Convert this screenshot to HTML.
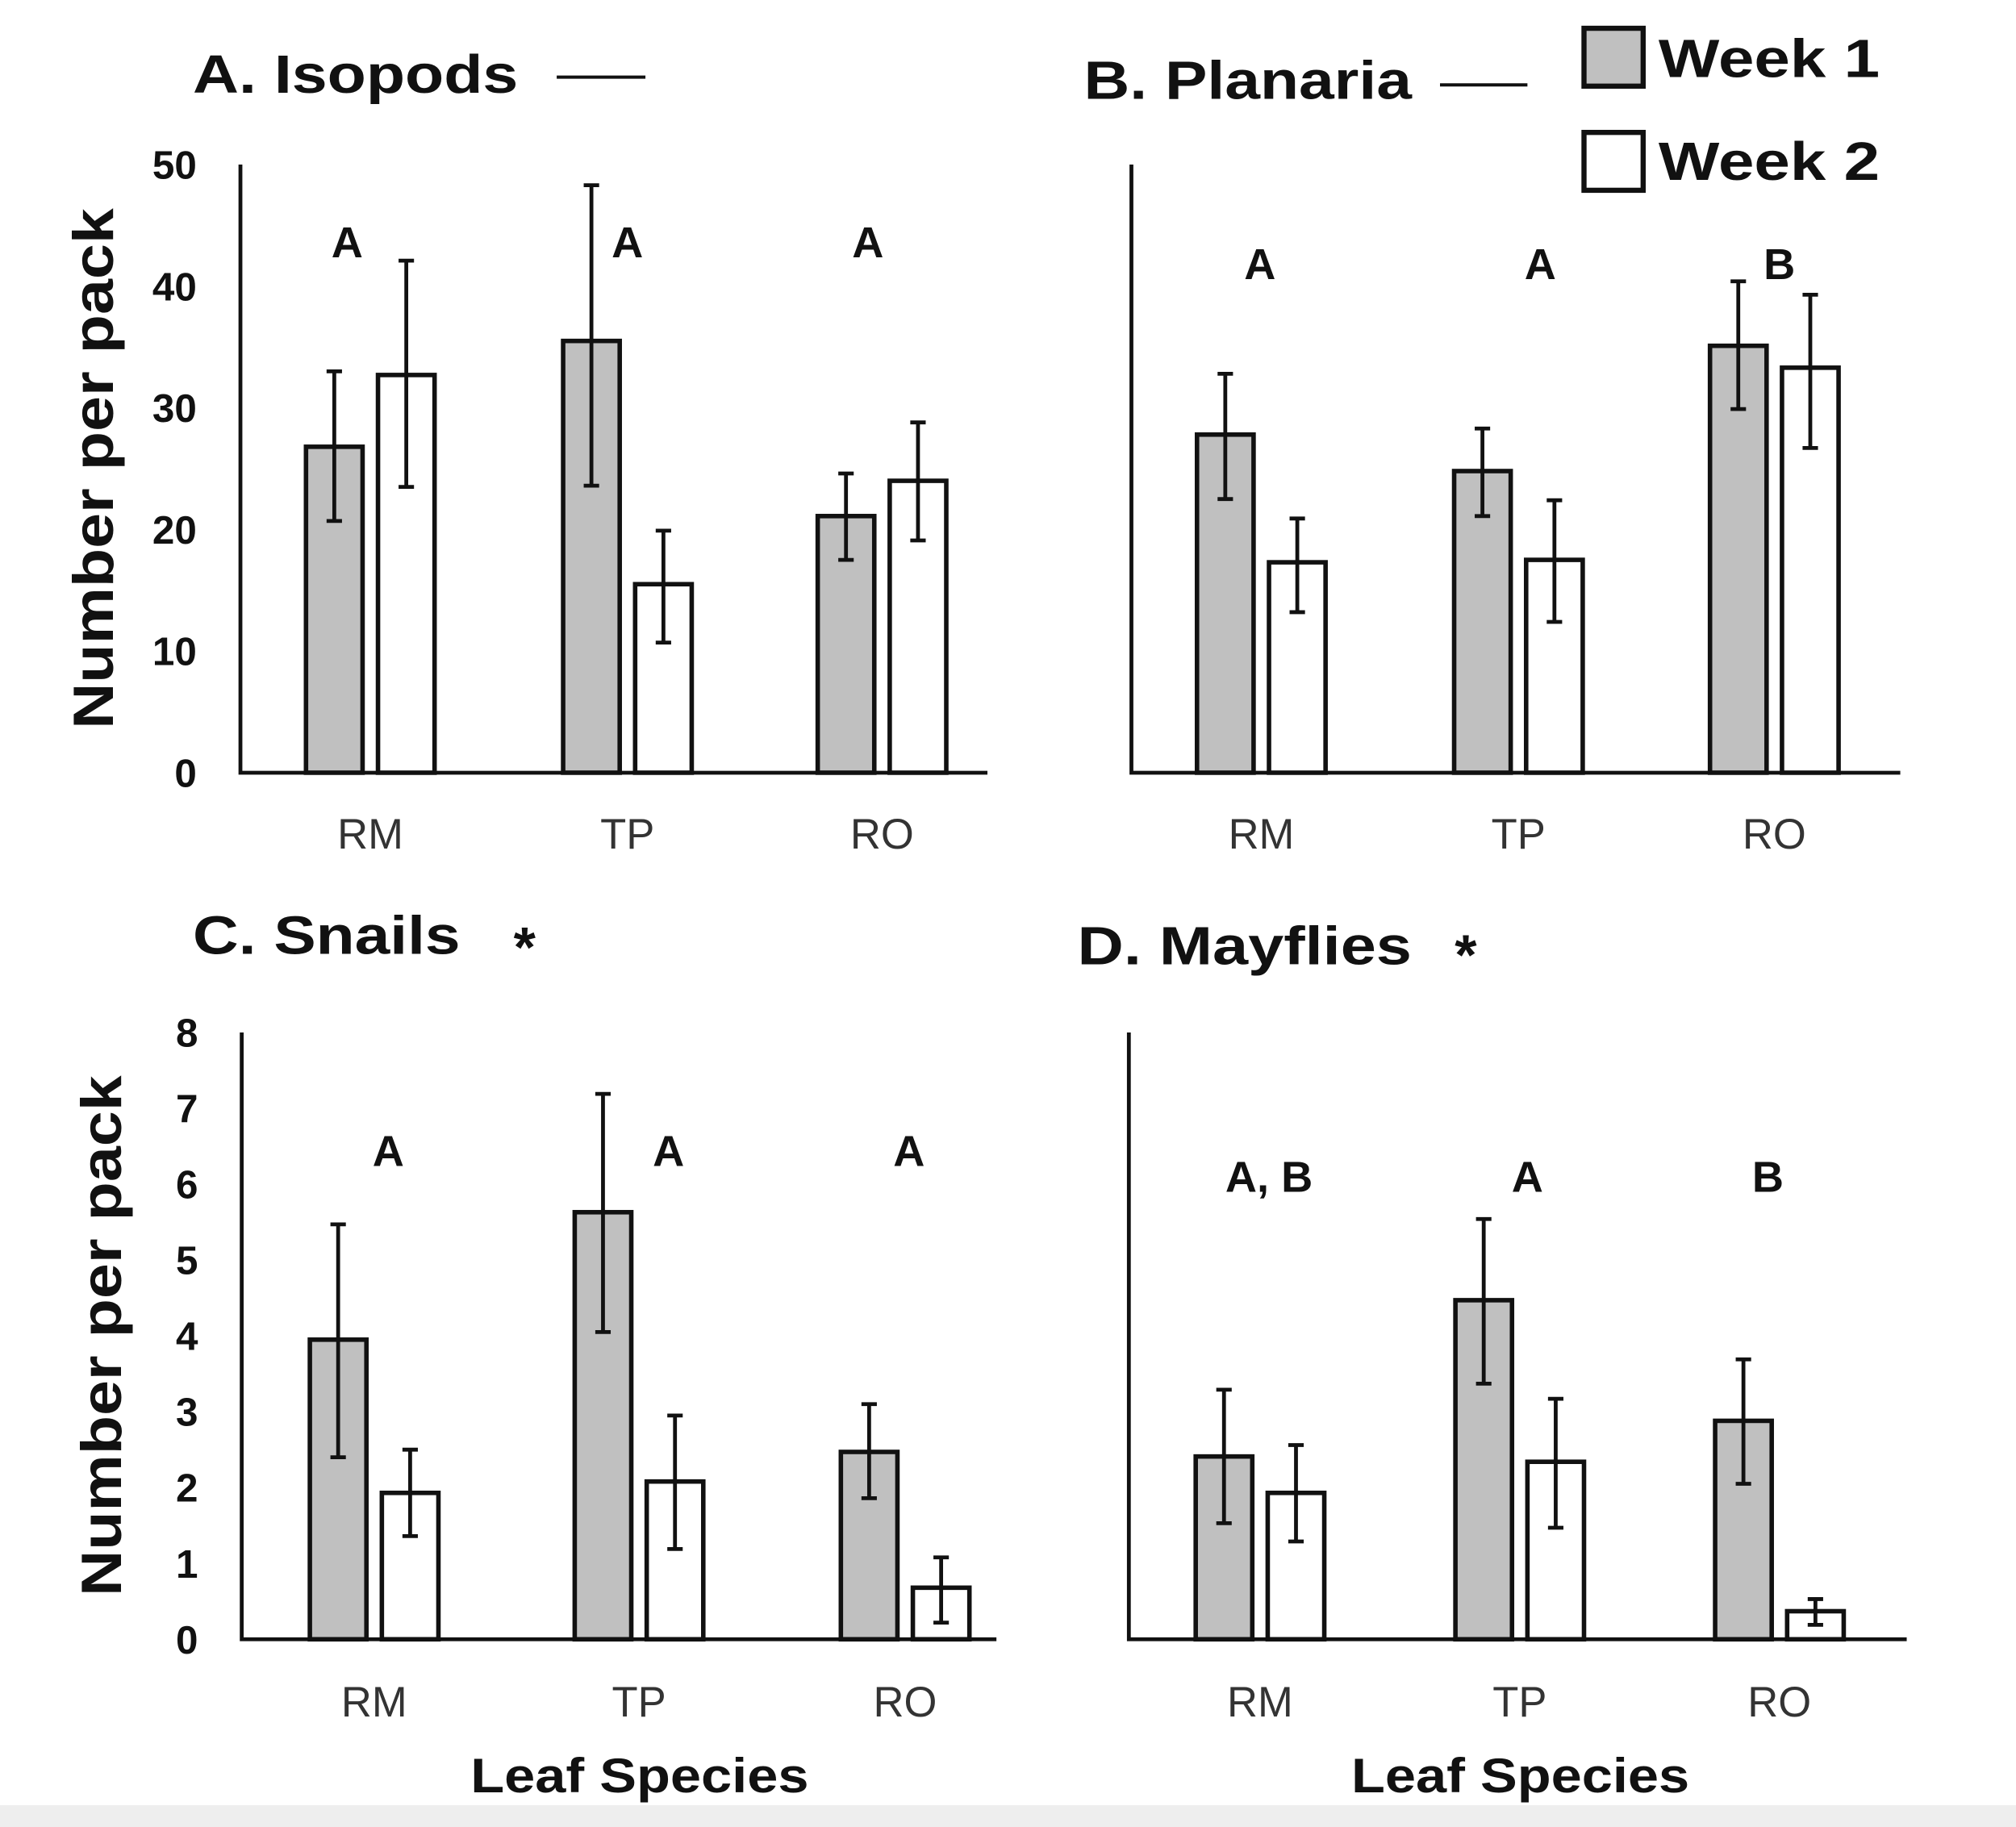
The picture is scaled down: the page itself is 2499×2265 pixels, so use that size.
<!DOCTYPE html>
<html><head><meta charset="utf-8"><style>
html,body{margin:0;padding:0;background:#fff;}
svg{display:block;}
text{font-family:"Liberation Sans",Arial,sans-serif;}
</style></head><body>
<svg id="fig" width="2499" height="2265" viewBox="0 0 1568 1421" preserveAspectRatio="none" xmlns="http://www.w3.org/2000/svg">
<rect x="0" y="0" width="1568" height="1421" fill="#fff"/>
<rect x="0" y="1404" width="1568" height="17" fill="#eeeeee"/>
<g id="root"></g>
</svg>
<script>
const categories = ["RM","TP","RO"];
// Panel A: Isopods
const isoW1 = [26.8, 35.5, 21.1];
const isoW1Hi = [33.0, 48.3, 24.6];
const isoW1Lo = [20.7, 23.6, 17.5];
const isoW2 = [32.7, 15.5, 24.0];
const isoW2Hi = [42.1, 19.9, 28.8];
const isoW2Lo = [23.5, 10.7, 19.1];
const isoLetters = ["A","A","A"];
// Panel B: Planaria
const plaW1 = [27.8, 24.8, 35.1];
const plaW1Hi = [32.8, 28.3, 40.4];
const plaW1Lo = [22.5, 21.1, 29.9];
const plaW2 = [17.3, 17.5, 33.3];
const plaW2Hi = [20.9, 22.4, 39.3];
const plaW2Lo = [13.2, 12.4, 26.7];
const plaLetters = ["A","A","B"];
// Panel C: Snails
const snaW1 = [3.95, 5.63, 2.47];
const snaW1Hi = [5.47, 7.19, 3.10];
const snaW1Lo = [2.40, 4.05, 1.86];
const snaW2 = [1.93, 2.08, 0.68];
const snaW2Hi = [2.50, 2.95, 1.08];
const snaW2Lo = [1.36, 1.19, 0.22];
const snaLetters = ["A","A","A"];
// Panel D: Mayflies
const mayW1 = [2.41, 4.47, 2.88];
const mayW1Hi = [3.29, 5.54, 3.69];
const mayW1Lo = [1.53, 3.37, 2.05];
const mayW2 = [1.93, 2.34, 0.37];
const mayW2Hi = [2.56, 3.17, 0.53];
const mayW2Lo = [1.29, 1.47, 0.19];
const mayLetters = ["A, B","A","B"];
const ticksTop = [0,10,20,30,40,50];
const ticksBottom = [0,1,2,3,4,5,6,7,8];

const NS="http://www.w3.org/2000/svg";
const root=document.getElementById('root');
function mk(tag,attrs,parent,txt){const e=document.createElementNS(NS,tag);for(const k in attrs)e.setAttribute(k,attrs[k]);if(txt!==undefined)e.textContent=txt;(parent||root).appendChild(e);return e;}

const panels=[
 {id:"isopods",title:"A. Isopods",tw:253,tx:150,ty:72,mark:"line",mx:433,my:60,mx2:502,ax:187,ax2:768,top:128,base:601,max:50,cx:[288,488,686],letterX:[270,488,675],letterY:188,w1:isoW1,w1h:isoW1Hi,w1l:isoW1Lo,w2:isoW2,w2h:isoW2Hi,w2l:isoW2Lo,letters:isoLetters,ticks:ticksTop,showTicks:true,ytitleX:72,labY:660},
 {id:"planaria",title:"B. Planaria",tw:255,tx:843,ty:77,mark:"line",mx:1120,my:66,mx2:1188,ax:880,ax2:1478,top:128,base:601,max:50,cx:[981,1181,1380],letterX:[980,1198,1384],letterY:205,w1:plaW1,w1h:plaW1Hi,w1l:plaW1Lo,w2:plaW2,w2h:plaW2Hi,w2l:plaW2Lo,letters:plaLetters,ticks:ticksTop,showTicks:false,labY:660},
 {id:"snails",title:"C. Snails",tw:208,tx:150,ty:742,mark:"star",mx:408,my:752,ax:188,ax2:775,top:803,base:1275,max:8,cx:[291,497,704],letterX:[302,520,707],letterY:895,w1:snaW1,w1h:snaW1Hi,w1l:snaW1Lo,w2:snaW2,w2h:snaW2Hi,w2l:snaW2Lo,letters:snaLetters,ticks:ticksBottom,showTicks:true,ytitleX:78,labY:1335,xtitle:true,xtx:497},
 {id:"mayflies",title:"D. Mayflies",tw:260,tx:838,ty:750,mark:"star",mx:1140,my:758,ax:878,ax2:1483,top:803,base:1275,max:8,cx:[980,1182,1384],letterX:[987,1188,1375],letterY:915,w1:mayW1,w1h:mayW1Hi,w1l:mayW1Lo,w2:mayW2,w2h:mayW2Hi,w2l:mayW2Lo,letters:mayLetters,ticks:ticksBottom,showTicks:false,labY:1335,xtitle:true,xtx:1182}
];

panels.forEach(p=>{
  const g=mk('g',{});
  
  
  const y=v=>p.base-(v/p.max)*(p.base-p.top);
  const t=mk('text',{x:p.tx,y:p.ty,'font-size':42,'font-weight':'bold',fill:'#111',textLength:p.tw,lengthAdjust:'spacingAndGlyphs'},g,p.title);
  
  
  if(p.mark==="line"){
    const l=mk('line',{x1:p.mx,y1:p.my,x2:p.mx2,y2:p.my,stroke:'#111','stroke-width':2.5},g);
    
    
  } else {
    const s=mk('text',{x:p.mx,y:p.my,'font-size':44,'font-weight':'bold','text-anchor':'middle',fill:'#111'},g,"*");
    
    
  }
  for(let i=0;i<categories.length;i++){
    [[p.w1,p.w1h,p.w1l,'#c0c0c0',-28,'week1'],[p.w2,p.w2h,p.w2l,'#fff',28,'week2']].forEach(s=>{
      const cx=p.cx[i]+s[4];
      const b=mk('rect',{x:cx-22,y:y(s[0][i]),width:44,height:p.base-y(s[0][i]),fill:s[3],stroke:'#111','stroke-width':3.5},g);
      
      
      const e=mk('path',{d:`M${cx},${y(s[1][i])}V${y(s[2][i])}M${cx-6},${y(s[1][i])}H${cx+6}M${cx-6},${y(s[2][i])}H${cx+6}`,stroke:'#111','stroke-width':3,fill:'none'},g);
      
      
    });
    const lt=mk('text',{x:p.letterX[i],y:p.letterY+12,'font-size':34,'font-weight':'bold','text-anchor':'middle',fill:'#111'},g,p.letters[i]);
    
    
    const cl=mk('text',{x:p.cx[i],y:p.labY,'font-size':33,'text-anchor':'middle',fill:'#333'},g,categories[i]);
    
    
  }
  const ax=mk('path',{d:`M${p.ax},${p.top}V${p.base}H${p.ax2}`,stroke:'#111','stroke-width':3,fill:'none'},g);
  
  
  if(p.showTicks){
    p.ticks.forEach(v=>{
      const tt=mk('text',{x:p.ax-34,y:y(v)+11,'font-size':31,'font-weight':'bold','text-anchor':'end',fill:'#111'},g,String(v));
      
      
    });
    const cy=(p.top+p.base)/2;
    const yt=mk('text',{x:p.ytitleX+16,y:cy,'font-size':44,'font-weight':'bold','text-anchor':'middle',fill:'#111',textLength:405,lengthAdjust:'spacingAndGlyphs',transform:`rotate(-90 ${p.ytitleX+16} ${cy})`},g,"Number per pack");
    
    
  }
  if(p.xtitle){
    const xt=mk('text',{x:p.xtx-131,y:1394,'font-size':38,'font-weight':'bold',fill:'#111',textLength:263,lengthAdjust:'spacingAndGlyphs'},g,"Leaf Species");
    
    
  }
});
const lg=mk('g',{});


[["#c0c0c0","Week 1",22,60],["#fff","Week 2",103,140]].forEach(d=>{
  const r=mk('rect',{x:1232,y:d[2],width:46,height:45,fill:d[0],stroke:'#111','stroke-width':4},lg);
  
  
  const t=mk('text',{x:1290,y:d[3],'font-size':42,'font-weight':'bold',fill:'#111',textLength:172,lengthAdjust:'spacingAndGlyphs'},lg,d[1]);
  
  
});
</script>
</body></html>
